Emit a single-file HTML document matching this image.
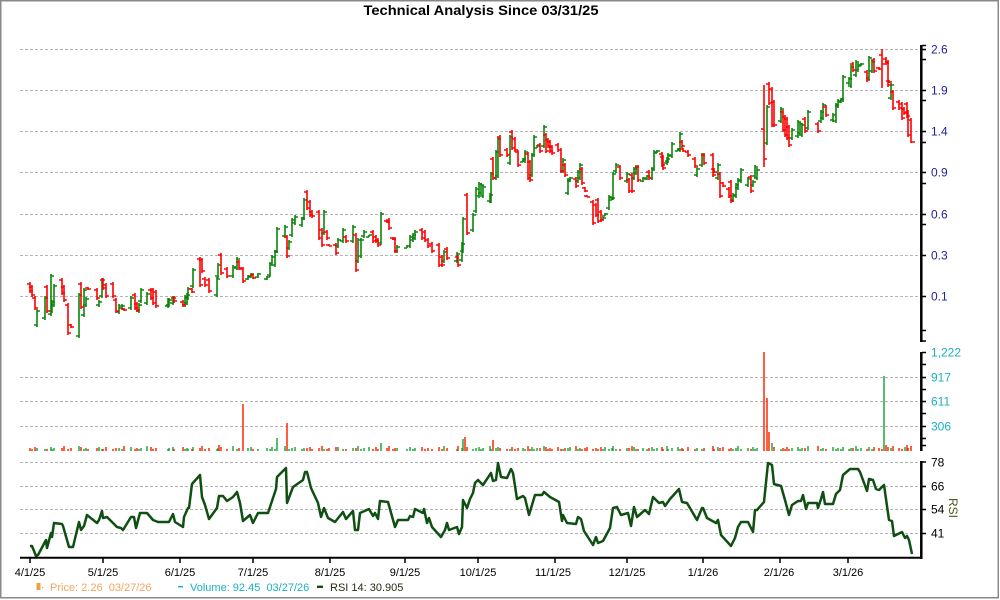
<!DOCTYPE html>
<html><head><meta charset="utf-8"><style>
html,body{margin:0;padding:0;background:#fff;}
svg{display:block;font-family:"Liberation Sans",Arial,sans-serif;}
</style></head><body>
<svg width="1000" height="600" viewBox="0 0 1000 600" xmlns="http://www.w3.org/2000/svg">
<rect x="0" y="0" width="1000" height="600" fill="#fff"/>
<rect x="0.75" y="0.75" width="997.5" height="597" fill="none" stroke="#888" stroke-width="1.5"/>
<text x="481" y="15" text-anchor="middle" font-size="14" font-weight="bold" textLength="235" lengthAdjust="spacingAndGlyphs" fill="#000">Technical Analysis Since 03/31/25</text>

<!-- gridlines -->
<g stroke="#b4b4b4" stroke-width="1" stroke-dasharray="3,2">
<path d="M20 49.5H921M20 90.5H921M20 131.5H921M20 172.5H921M20 214.5H921M20 255.5H921M20 296.5H921"/>
<path d="M20 377.5H921M20 401.5H921M20 426.5H921"/>
<path d="M20 462.5H921M20 486.5H921M20 509.5H921M20 533.5H921"/>
</g>

<!-- price bars green -->
<path fill="none" stroke="#0a850a" stroke-width="1.6" d="M37 309V327M37 325h-3M37 311h3M45 296V320M45 318h-3M45 298h3M51 274V316M51 314h-3M51 276h3M52 300V313M52 311h-3M52 302h3M54 284V307M54 305h-3M54 286h3M79 293V338M79 336h-3M79 295h3M84 288V317M84 315h-3M84 290h3M86 297V307M86 305h-3M86 299h3M99 300V307M99 305h-3M99 302h3M102 278V298M102 296h-3M102 280h3M119 304V314M119 312h-3M119 306h3M122 304V310M122 308h-3M122 306h3M131 296V310M131 308h-3M131 298h3M139 303V313M139 311h-3M139 305h3M141 288V303M141 301h-3M141 290h3M147 292V305M147 303h-3M147 294h3M168 298V308M168 306h-3M168 300h3M169 298V307M169 305h-3M169 300h3M173 296V305M173 303h-3M173 298h3M185 295V307M185 305h-3M185 297h3M187 293V305M187 303h-3M187 295h3M188 287V300M188 298h-3M188 289h3M193 268V288M193 286h-3M193 270h3M217 277V297M217 295h-3M217 279h3M218 263V278M218 276h-3M218 265h3M233 265V278M233 276h-3M233 267h3M237 257V270M237 268h-3M237 259h3M248 275V280M248 279h-3M248 276h3M251 273V278M251 277h-3M251 274h3M258 273V278M258 277h-3M258 274h3M267 276V280M267 279h-3M267 277h3M270 263V277M270 275h-3M270 265h3M272 255V265M272 263h-3M272 257h3M275 250V267M275 265h-3M275 252h3M277 227V253M277 251h-3M277 229h3M285 225V238M285 236h-3M285 227h3M289 240V250M289 248h-3M289 242h3M292 218V237M292 235h-3M292 220h3M295 215V225M295 223h-3M295 217h3M302 217V227M302 225h-3M302 219h3M304 198V220M304 218h-3M304 200h3M324 210V235M324 233h-3M324 212h3M338 238V248M338 246h-3M338 240h3M343 228V243M343 241h-3M343 230h3M353 225V243M353 241h-3M353 227h3M358 238V263M358 261h-3M358 240h3M361 238V258M361 256h-3M361 240h3M364 230V238M364 236h-3M364 232h3M369 235V237M369 237h-3M369 235h3M381 212V245M381 243h-3M381 214h3M397 245V253M397 251h-3M397 247h3M407 245V248M407 248h-3M407 246h3M410 235V248M410 246h-3M410 237h3M413 233V242M413 240h-3M413 235h3M415 230V240M415 238h-3M415 232h3M444 250V263M444 261h-3M444 252h3M457 252V263M457 261h-3M457 254h3M462 242V262M462 260h-3M462 244h3M463 217V253M463 251h-3M463 219h3M473 213V232M473 230h-3M473 215h3M476 187V213M476 211h-3M476 189h3M479 182V198M479 196h-3M479 184h3M481 183V195M481 193h-3M481 185h3M483 185V198M483 196h-3M483 187h3M490 193V203M490 201h-3M490 195h3M491 172V203M491 201h-3M491 174h3M496 150V180M496 178h-3M496 152h3M498 137V178M498 176h-3M498 139h3M510 135V165M510 163h-3M510 137h3M523 158V162M523 162h-3M523 159h3M525 150V163M525 161h-3M525 152h3M532 153V177M532 175h-3M532 155h3M534 135V157M534 155h-3M534 137h3M537 145V148M537 148h-3M537 146h3M544 125V148M544 146h-3M544 127h3M563 158V173M563 171h-3M563 160h3M568 178V195M568 193h-3M568 180h3M570 177V182M570 181h-3M570 178h3M578 170V183M578 181h-3M578 172h3M580 163V180M580 178h-3M580 165h3M603 217V220M603 220h-3M603 218h3M605 213V216M605 216h-3M605 214h3M609 195V210M609 208h-3M609 197h3M612 197V200M612 200h-3M612 198h3M613 172V200M613 198h-3M613 174h3M616 163V173M616 171h-3M616 165h3M627 172V183M627 181h-3M627 174h3M634 167V180M634 178h-3M634 169h3M636 165V175M636 173h-3M636 167h3M643 177V182M643 181h-3M643 178h3M647 175V180M647 179h-3M647 176h3M652 168V180M652 178h-3M652 170h3M654 150V170M654 168h-3M654 152h3M657 150V153M657 153h-3M657 151h3M667 157V165M667 163h-3M667 159h3M668 153V163M668 161h-3M668 155h3M672 142V158M672 156h-3M672 144h3M678 148V151M678 151h-3M678 149h3M680 132V152M680 150h-3M680 134h3M697 167V177M697 175h-3M697 169h3M702 153V167M702 165h-3M702 155h3M718 163V180M718 178h-3M718 165h3M733 193V202M733 200h-3M733 195h3M736 183V198M736 196h-3M736 185h3M738 178V190M738 188h-3M738 180h3M741 168V183M741 181h-3M741 170h3M748 177V187M748 185h-3M748 179h3M753 180V187M753 185h-3M753 182h3M755 165V178M755 176h-3M755 167h3M757 168V180M757 178h-3M757 170h3M767 105V145M767 143h-3M767 107h3M781 107V123M781 121h-3M781 109h3M792 128V140M792 138h-3M792 130h3M798 120V138M798 136h-3M798 122h3M800 122V135M800 133h-3M800 124h3M802 123V137M802 135h-3M802 125h3M808 110V130M808 128h-3M808 112h3M821 110V123M821 121h-3M821 112h3M823 103V120M823 118h-3M823 105h3M833 113V122M833 120h-3M833 115h3M836 103V123M836 121h-3M836 105h3M838 99V108M838 106h-3M838 101h3M841 98V103M841 102h-3M841 99h3M843 75V102M843 100h-3M843 77h3M849 77V85M849 83h-3M849 79h3M851 65V88M851 86h-3M851 67h3M856 60V77M856 75h-3M856 62h3M858 63V72M858 70h-3M858 65h3M861 63V66M861 66h-3M861 64h3M869 56V80M869 78h-3M869 58h3M872 60V73M872 71h-3M872 62h3M891 83V100M891 98h-3M891 85h3"/>

<!-- price bars red -->
<path fill="none" stroke="#ff0000" stroke-width="1.6" d="M30 282V293M30 284h-3M30 291h3M32 285V297M32 287h-3M32 295h3M35 296V310M35 298h-3M35 308h3M47 285V313M47 287h-3M47 311h3M62 278V295M62 280h-3M62 293h3M64 285V302M64 287h-3M64 300h3M68 303V335M68 305h-3M68 333h3M71 324V328M71 325h-3M71 327h3M81 282V309M81 284h-3M81 307h3M88 287V290M88 288h-3M88 289h3M97 288V300M97 290h-3M97 298h3M103 278V290M103 280h-3M103 288h3M106 283V298M106 285h-3M106 296h3M113 282V298M113 284h-3M113 296h3M116 298V313M116 300h-3M116 311h3M124 308V311M124 309h-3M124 310h3M135 293V310M135 295h-3M135 308h3M137 302V312M137 304h-3M137 310h3M151 288V300M151 290h-3M151 298h3M153 288V305M153 290h-3M153 303h3M156 290V308M156 292h-3M156 306h3M174 296V303M174 298h-3M174 301h3M183 300V307M183 302h-3M183 305h3M192 288V293M192 289h-3M192 292h3M200 257V287M200 259h-3M200 285h3M202 258V273M202 260h-3M202 271h3M205 277V287M205 279h-3M205 285h3M209 278V293M209 280h-3M209 291h3M221 253V275M221 255h-3M221 273h3M227 267V278M227 269h-3M227 276h3M239 260V270M239 262h-3M239 268h3M243 267V283M243 269h-3M243 281h3M253 274V279M253 275h-3M253 278h3M287 235V258M287 237h-3M287 256h3M307 190V210M307 192h-3M307 208h3M310 200V217M310 202h-3M310 215h3M312 210V218M312 212h-3M312 216h3M319 210V240M319 212h-3M319 238h3M322 228V247M322 230h-3M322 245h3M327 230V240M327 232h-3M327 238h3M329 244V246M329 245h-3M329 246h3M336 243V255M336 245h-3M336 253h3M346 235V243M346 237h-3M346 241h3M356 233V272M356 235h-3M356 270h3M373 230V243M373 232h-3M373 241h3M376 235V243M376 237h-3M376 241h3M378 238V247M378 240h-3M378 245h3M387 220V223M387 221h-3M387 222h3M389 218V230M389 220h-3M389 228h3M393 237V240M393 238h-3M393 239h3M395 237V253M395 239h-3M395 251h3M422 228V240M422 230h-3M422 238h3M425 230V242M425 232h-3M425 240h3M428 238V248M428 240h-3M428 246h3M432 242V253M432 244h-3M432 251h3M439 243V267M439 245h-3M439 265h3M442 255V267M442 257h-3M442 265h3M447 247V260M447 249h-3M447 258h3M458 255V267M458 257h-3M458 265h3M467 193V235M467 195h-3M467 233h3M493 157V180M493 159h-3M493 178h3M500 135V157M500 137h-3M500 155h3M507 148V157M507 150h-3M507 155h3M512 130V150M512 132h-3M512 148h3M515 137V152M515 139h-3M515 150h3M518 150V167M518 152h-3M518 165h3M528 152V180M528 154h-3M528 178h3M530 160V182M530 162h-3M530 180h3M540 143V153M540 145h-3M540 151h3M546 133V153M546 135h-3M546 151h3M548 138V148M548 140h-3M548 146h3M550 140V153M550 142h-3M550 151h3M552 145V155M552 147h-3M552 153h3M558 143V152M558 145h-3M558 150h3M561 148V173M561 150h-3M561 171h3M565 163V177M565 165h-3M565 175h3M576 177V188M576 179h-3M576 186h3M582 167V185M582 169h-3M582 183h3M585 187V192M585 188h-3M585 191h3M587 195V197M587 196h-3M587 197h3M593 200V225M593 202h-3M593 223h3M596 203V217M596 205h-3M596 215h3M598 198V223M598 200h-3M598 221h3M601 210V222M601 212h-3M601 220h3M620 165V180M620 167h-3M620 178h3M629 178V193M629 180h-3M629 191h3M632 173V193M632 175h-3M632 191h3M638 165V182M638 167h-3M638 180h3M649 170V180M649 172h-3M649 178h3M662 152V167M662 154h-3M662 165h3M663 155V170M663 157h-3M663 168h3M682 140V148M682 142h-3M682 146h3M683 148V152M683 149h-3M683 151h3M688 150V157M688 152h-3M688 155h3M695 157V168M695 159h-3M695 166h3M704 153V165M704 155h-3M704 163h3M713 153V177M713 155h-3M713 175h3M714 168V173M714 169h-3M714 172h3M720 172V198M720 174h-3M720 196h3M723 182V187M723 183h-3M723 186h3M729 187V198M729 189h-3M729 196h3M731 180V203M731 182h-3M731 201h3M751 175V193M751 177h-3M751 191h3M764 85V167M764 129h-3M764 159h3M769 82V105M769 84h-3M769 103h3M772 87V127M772 89h-3M772 125h3M774 100V127M774 102h-3M774 125h3M783 110V132M783 112h-3M783 130h3M785 115V137M785 117h-3M785 135h3M787 117V140M787 119h-3M787 138h3M789 125V147M789 127h-3M789 145h3M805 117V133M805 119h-3M805 131h3M818 122V133M818 124h-3M818 131h3M826 105V117M826 107h-3M826 115h3M853 62V72M853 64h-3M853 70h3M867 70V82M867 72h-3M867 80h3M874 58V73M874 60h-3M874 71h3M879 67V70M879 68h-3M879 69h3M882 49V88M882 55h-3M882 64h3M886 57V65M886 59h-3M886 63h3M888 60V87M888 62h-3M888 85h3M889 80V83M889 81h-3M889 82h3M893 90V110M893 92h-3M893 108h3M899 100V110M899 102h-3M899 108h3M902 102V120M902 104h-3M902 118h3M904 107V115M904 109h-3M904 113h3M907 102V118M907 104h-3M907 116h3M908 110V137M908 112h-3M908 135h3M911 118V143M911 120h-3M911 142h4"/>

<!-- volume green -->
<path fill="none" stroke="#1ea83c" stroke-width="1.5" d="M37 451v-3M45 451v-2M51 451v-4M52 451v-2M54 451v-3M79 451v-5M84 451v-2M86 451v-3M99 451v-4M102 451v-2M119 451v-3M122 451v-2M131 451v-4M139 451v-2M141 451v-3M147 451v-5M168 451v-2M169 451v-3M173 451v-4M185 451v-2M187 451v-3M188 451v-2M193 451v-4M217 451v-2M218 451v-3M233 451v-5M237 451v-2M248 451v-3M251 451v-4M258 451v-2M267 451v-3M270 451v-2M272 451v-4M275 451v-2M277 451v-13M285 451v-5M289 451v-2M292 451v-3M295 451v-4M302 451v-2M304 451v-3M324 451v-2M338 451v-4M343 451v-2M353 451v-3M358 451v-5M361 451v-2M364 451v-3M369 451v-4M381 451v-8M397 451v-3M407 451v-2M410 451v-4M413 451v-2M415 451v-3M444 451v-5M457 451v-2M462 451v-3M463 451v-12M473 451v-2M476 451v-3M479 451v-4M481 451v-2M483 451v-3M490 451v-5M491 451v-2M496 451v-3M498 451v-4M510 451v-2M523 451v-3M525 451v-2M532 451v-4M534 451v-2M537 451v-3M544 451v-5M563 451v-2M568 451v-3M570 451v-4M578 451v-2M580 451v-3M603 451v-2M605 451v-4M609 451v-2M612 451v-3M613 451v-5M616 451v-2M627 451v-3M634 451v-4M636 451v-2M643 451v-3M647 451v-2M652 451v-4M654 451v-2M657 451v-3M667 451v-5M668 451v-2M672 451v-3M678 451v-4M680 451v-2M697 451v-3M702 451v-2M718 451v-4M733 451v-2M736 451v-3M738 451v-5M741 451v-2M748 451v-3M753 451v-4M755 451v-2M757 451v-3M772 451v-8M781 451v-2M792 451v-3M798 451v-4M800 451v-2M802 451v-3M808 451v-5M821 451v-2M823 451v-3M833 451v-4M836 451v-2M838 451v-3M841 451v-2M843 451v-4M849 451v-2M851 451v-3M856 451v-5M858 451v-2M861 451v-3M869 451v-4M872 451v-2M884 451v-75M891 451v-3M905 451v-4"/>
<!-- volume red -->
<path fill="none" stroke="#ff2a00" stroke-width="1.5" d="M30 451v-3M32 451v-2M35 451v-4M47 451v-2M62 451v-3M64 451v-5M68 451v-2M71 451v-3M81 451v-4M88 451v-2M97 451v-3M103 451v-2M106 451v-4M113 451v-2M116 451v-3M124 451v-5M135 451v-2M137 451v-3M151 451v-4M153 451v-2M156 451v-3M174 451v-2M183 451v-4M192 451v-2M200 451v-3M202 451v-5M205 451v-2M209 451v-3M219 451v-6M221 451v-4M227 451v-2M239 451v-3M243 451v-47M253 451v-2M287 451v-28M307 451v-3M310 451v-4M312 451v-2M319 451v-3M322 451v-5M327 451v-2M329 451v-3M336 451v-4M346 451v-2M356 451v-3M373 451v-2M376 451v-4M378 451v-2M387 451v-3M389 451v-5M393 451v-2M395 451v-3M422 451v-4M425 451v-2M428 451v-3M432 451v-2M439 451v-4M442 451v-2M447 451v-3M458 451v-5M465 451v-14M467 451v-4M493 451v-11M500 451v-3M507 451v-2M512 451v-4M515 451v-2M518 451v-3M528 451v-5M530 451v-2M540 451v-3M546 451v-4M548 451v-2M550 451v-3M552 451v-2M558 451v-4M561 451v-2M565 451v-3M576 451v-5M582 451v-2M585 451v-3M587 451v-4M593 451v-2M596 451v-3M598 451v-2M601 451v-4M620 451v-2M629 451v-3M632 451v-5M638 451v-2M649 451v-3M662 451v-4M663 451v-2M682 451v-3M683 451v-2M688 451v-4M695 451v-2M704 451v-3M713 451v-5M714 451v-2M720 451v-3M723 451v-4M729 451v-2M731 451v-3M751 451v-2M764 451v-99M767 451v-53M769 451v-19M774 451v-4M783 451v-3M785 451v-2M787 451v-4M789 451v-2M805 451v-3M818 451v-5M826 451v-2M853 451v-3M867 451v-2M874 451v-4M879 451v-3M882 451v-2M886 451v-6M888 451v-4M893 451v-5M899 451v-3M902 451v-2M907 451v-6M908 451v-3M911 451v-5"/>

<!-- RSI -->
<polyline fill="none" stroke="#0f4f12" stroke-width="2.5" stroke-linejoin="round" points="30,546 32,546 36,556 38,555 46,540 47,548 51,533 52,537 54,523 62,524 63,526 69,547 73,547 79,522 81,530 84,526 87,515 97,523 99,520 102,511 103,518 107,517 117,527 121,528 123,530 131,517 134,517 136,528 140,513 147,513 153,520 158,522 169,522 173,514 175,522 183,527 184,517 188,508 189,508 192,484 200,475 202,497 205,505 209,519 217,508 219,496 223,496 227,501 233,497 237,492 240,503 243,521 250,515 253,523 258,513 268,513 276,489 277,477 286,468 287,503 293,487 303,480 305,472 307,472 311,488 318,503 321,517 324,508 328,518 335,522 343,512 346,519 353,511 355,530 358,530 360,513 369,509 373,516 375,513 378,519 380,501 388,502 395,527 398,520 408,520 410,516 413,517 415,509 423,513 424,509 427,523 429,518 432,527 441,537 445,530 447,523 449,530 457,527 459,534 462,527 463,500 467,508 470,499 473,493 475,483 478,480 483,485 491,473 493,481 496,480 498,463 501,477 507,478 511,469 513,473 517,499 523,496 525,498 529,515 535,495 542,495 544,492 550,497 559,502 562,521 563,515 567,523 576,524 578,517 581,519 584,531 593,545 596,537 598,543 603,541 610,528 613,508 617,507 621,515 628,513 631,526 634,507 637,517 645,510 649,514 653,497 659,503 663,502 665,506 670,499 679,489 682,502 687,503 697,520 702,508 703,508 707,518 716,523 718,520 721,535 731,546 735,538 738,527 741,522 748,522 753,532 755,510 757,510 764,502 768,463 772,465 774,484 781,486 785,500 789,515 792,505 798,501 801,501 803,495 806,509 808,503 817,503 818,508 821,499 823,492 825,504 833,504 836,494 840,490 843,475 850,469 858,469 860,472 867,491 869,479 873,480 876,489 879,490 884,485 889,520 892,521 894,536 902,532 905,538 907,536 909,540 912,554"/>

<!-- axes -->
<g stroke="#000" fill="none">
<path stroke-width="2.5" d="M921.3 45V342M921.3 352V451M921.3 461V559"/>
<path stroke-width="2" d="M20 557.8H922"/>
<path stroke-width="1.5" d="M922 45.5h4M922 49.5h4M922 59.5h4M922 90.5h4M922 100.5h4M922 131.5h4M922 142.5h4M922 172.5h4M922 183.5h4M922 214.5h4M922 224.5h4M922 255.5h4M922 296.5h4M922 330.5h4M922 341h4M922 352.5h4M922 364.5h4M922 377.5h4M922 389.5h4M922 401.5h4M922 413.5h4M922 426.5h4M922 438.5h4M922 445.5h4M922 462h4M922 486.5h4M922 509.5h4M922 533.5h4"/>
<path stroke-width="1.5" d="M30 558v5M103 558v5M180 558v5M253 558v5M330 558v5M405 558v5M478 558v5M555 558v5M627 558v5M703 558v5M780 558v5M848 558v5"/>
</g>

<!-- right labels -->
<g font-size="12" fill="#1f1f9f">
<text x="931" y="53.5">2.6</text>
<text x="931" y="94.5">1.9</text>
<text x="931" y="135.5">1.4</text>
<text x="931" y="176.5">0.9</text>
<text x="931" y="218.5">0.6</text>
<text x="931" y="259.5">0.3</text>
<text x="931" y="300.5">0.1</text>
</g>
<g font-size="12" fill="#19b0c0">
<text x="931" y="356.5">1,222</text>
<text x="931" y="381.5">917</text>
<text x="931" y="405.5">611</text>
<text x="931" y="430.5">306</text>
</g>
<g font-size="12" fill="#000">
<text x="931" y="466.5">78</text>
<text x="931" y="490.5">66</text>
<text x="931" y="513.5">54</text>
<text x="931" y="537.5">41</text>
</g>
<text x="0" y="0" font-size="12" fill="#4b5a1c" text-anchor="middle" transform="translate(949,508) rotate(90)">RSI</text>

<!-- x labels -->
<g font-size="11" fill="#000" text-anchor="middle">
<text x="30" y="576">4/1/25</text>
<text x="103" y="576">5/1/25</text>
<text x="180" y="576">6/1/25</text>
<text x="253" y="576">7/1/25</text>
<text x="330" y="576">8/1/25</text>
<text x="405" y="576">9/1/25</text>
<text x="478" y="576">10/1/25</text>
<text x="553" y="576">11/1/25</text>
<text x="627" y="576">12/1/25</text>
<text x="703" y="576">1/1/26</text>
<text x="779" y="576">2/1/26</text>
<text x="848" y="576">3/1/26</text>
</g>

<!-- legend -->
<rect x="36.5" y="583" width="4" height="7" fill="#f0a040"/>
<rect x="42" y="587" width="1.2" height="1.2" fill="#f0a040"/>
<text x="50" y="591" font-size="11" fill="#f4a460">Price: 2.26&#160; 03/27/26</text>
<rect x="178" y="586" width="5" height="1.4" fill="#19b0c0"/>
<text x="190" y="591" font-size="11" fill="#19b0c0">Volume: 92.45&#160; 03/27/26</text>
<rect x="317" y="585.6" width="6" height="2.4" fill="#0f4f12"/>
<text x="330" y="591" font-size="11" fill="#2a2a10">RSI 14: 30.905</text>
</svg>
</body></html>
